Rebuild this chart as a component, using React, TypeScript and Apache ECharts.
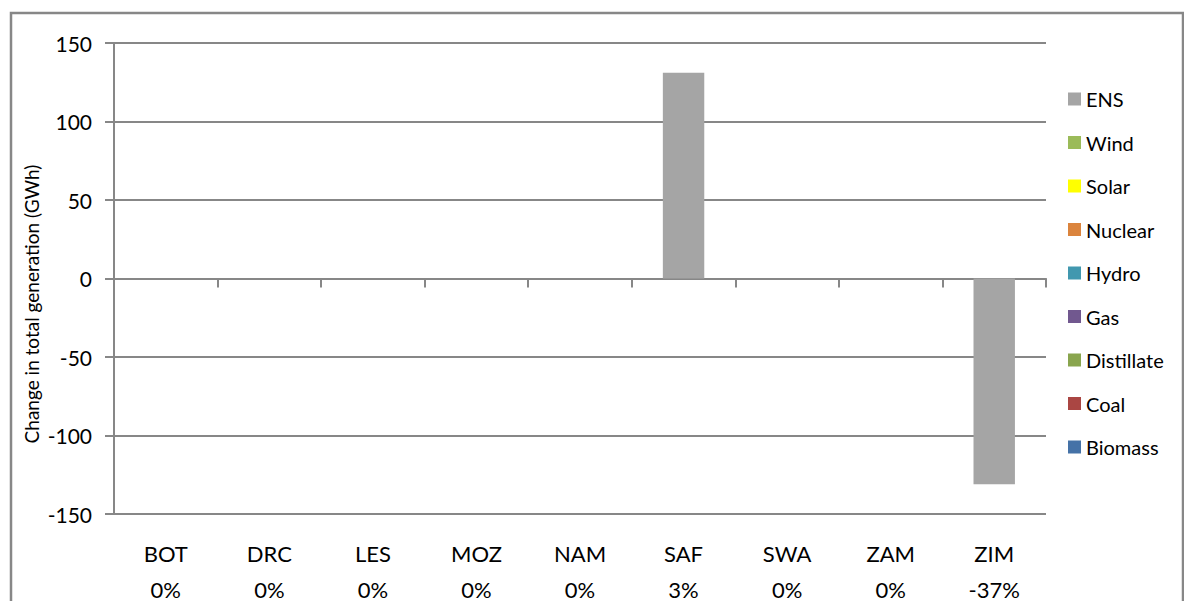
import React, { useEffect, useRef } from "react";
import * as echarts from "echarts";

// Countries and their overall change in generation
const categories = ["BOT", "DRC", "LES", "MOZ", "NAM", "SAF", "SWA", "ZAM", "ZIM"];
const pctChange = ["0%", "0%", "0%", "0%", "0%", "3%", "0%", "0%", "-37%"];

// Change in total generation by technology (GWh)
const biomass = [0, 0, 0, 0, 0, 0, 0, 0, 0];
const coal = [0, 0, 0, 0, 0, 0, 0, 0, 0];
const distillate = [0, 0, 0, 0, 0, 0, 0, 0, 0];
const gas = [0, 0, 0, 0, 0, 0, 0, 0, 0];
const hydro = [0, 0, 0, 0, 0, 0, 0, 0, 0];
const nuclear = [0, 0, 0, 0, 0, 0, 0, 0, 0];
const solar = [0, 0, 0, 0, 0, 0, 0, 0, 0];
const wind = [0, 0, 0, 0, 0, 0, 0, 0, 0];
const ens = [0, 0, 0, 0, 0, 131, 0, 0, -131];

const yTicks = { min: -150, max: 150, interval: 50 };

const seriesDefs = [
  { name: "Biomass", data: biomass, color: "#4572A7" },
  { name: "Coal", data: coal, color: "#AA4643" },
  { name: "Distillate", data: distillate, color: "#89A54E" },
  { name: "Gas", data: gas, color: "#71588F" },
  { name: "Hydro", data: hydro, color: "#4198AF" },
  { name: "Nuclear", data: nuclear, color: "#DB843D" },
  { name: "Solar", data: solar, color: "#FFFF00" },
  { name: "Wind", data: wind, color: "#9BBB59" },
  { name: "ENS", data: ens, color: "#A5A5A5" },
];

const FONT = "Lato, 'Open Sans', sans-serif";
const LINE = "#878787";

export default function App() {
  const ref = useRef<HTMLDivElement>(null);

  useEffect(() => {
    document.body.style.margin = "0";
    if (!ref.current) return;
    const chart = echarts.init(ref.current, undefined, { renderer: "svg" });
    chart.setOption({
      animation: false,
      backgroundColor: "#ffffff",
      textStyle: { fontFamily: FONT },
      grid: { left: 114, right: 138, top: 43, bottom: 87, outerBoundsMode: "none", containLabel: false },
      legend: {
        orient: "vertical",
        left: 1068,
        top: 88,
        padding: 0,
        itemWidth: 13,
        itemHeight: 13,
        itemGap: 21.5,
        icon: "rect",
        data: [...seriesDefs].reverse().map((s) => s.name),
        textStyle: { fontSize: 20, color: "#000", fontFamily: FONT, lineHeight: 22 },
      },
      xAxis: [
        {
          type: "category",
          data: categories,
          axisLine: { onZero: true, lineStyle: { color: LINE, width: 2 } },
          axisTick: { show: true, length: 9, lineStyle: { color: LINE, width: 2 } },
          axisLabel: { show: false },
        },
        {
          type: "category",
          data: categories.map((c, i) => `${c}\n${pctChange[i]}`),
          position: "bottom",
          axisLine: { show: false },
          axisTick: { show: false },
          axisLabel: {
            margin: 21,
            fontSize: 22,
            lineHeight: 36,
            color: "#000",
            fontFamily: FONT,
            interval: 0,
          },
        },
      ],
      yAxis: {
        type: "value",
        min: yTicks.min,
        max: yTicks.max,
        interval: yTicks.interval,
        axisLine: { show: true, lineStyle: { color: LINE, width: 2 } },
        axisTick: { show: true, length: 9, lineStyle: { color: LINE, width: 2 } },
        splitLine: { show: true, lineStyle: { color: LINE, width: 2 } },
        axisLabel: { margin: 22, fontSize: 21, color: "#000", fontFamily: FONT },
      },
      graphic: [
        {
          type: "rect",
          shape: { x: 11, y: 13, width: 1172, height: 620 },
          style: { fill: "none", stroke: LINE, lineWidth: 2.5 },
          silent: true,
        },
        {
          type: "text",
          x: 31,
          y: 304,
          rotation: Math.PI / 2,
          style: {
            text: "Change in total generation (GWh)",
            fontSize: 19,
            fontFamily: FONT,
            fill: "#000",
            align: "center",
            verticalAlign: "middle",
          },
        },
      ],
      series: seriesDefs.map((s) => ({
        name: s.name,
        type: "bar",
        stack: "total",
        barWidth: "40%",
        data: s.data,
        itemStyle: { color: s.color },
      })),
    });
    return () => chart.dispose();
  }, []);

  return <div ref={ref} style={{ width: 1184, height: 601 }} />;
}
